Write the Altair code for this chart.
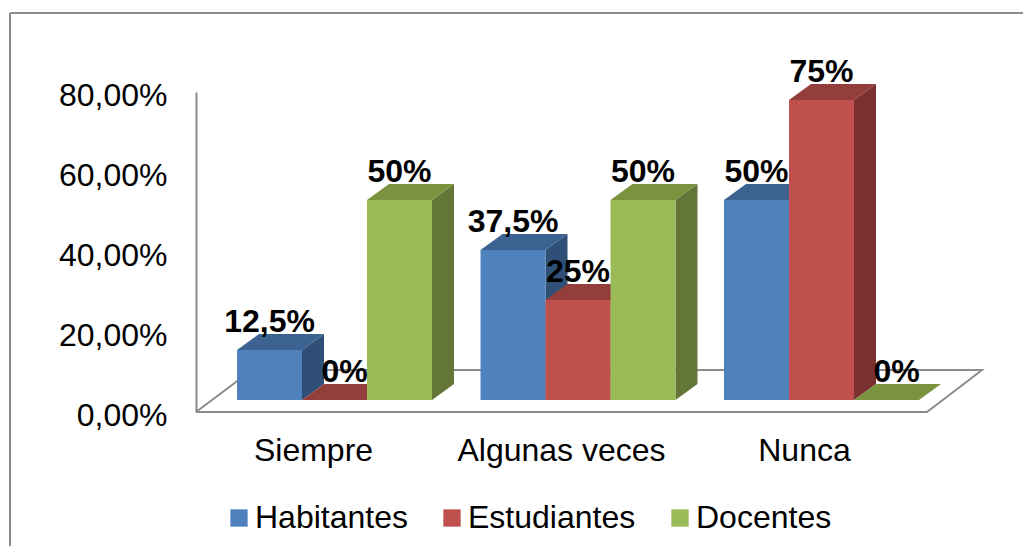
import altair as alt
import pandas as pd

categories = ["Siempre", "Algunas veces", "Nunca"]
series = ["Habitantes", "Estudiantes", "Docentes"]
values = {
    "Habitantes": [12.5, 37.5, 50],
    "Estudiantes": [0, 25, 75],
    "Docentes": [50, 50, 0],
}
labels = {
    "Habitantes": ["12,5%", "37,5%", "50%"],
    "Estudiantes": ["0%", "25%", "75%"],
    "Docentes": ["50%", "50%", "0%"],
}
front_colors = ["#4F81BD", "#C0504D", "#9BBB59"]
side_colors = ["#2F4F77", "#7A3130", "#637637"]
top_colors = ["#3C6291", "#943E3C", "#7A933F"]

FONT = "Liberation Sans"
PLOT_W, PLOT_H = 790, 320
LEFT, TOP = 196 - 8, 92 - 8
RIGHT, BOTTOM = 1015 - LEFT - PLOT_W, 538 - TOP - PLOT_H

group_start = [41, 284.5, 528]
bar_w = 65
base = 3
depth_x, depth_y = 22, 4

front, side, top, text = [], [], [], []
for s_i, s in enumerate(series):
    for c_i, c in enumerate(categories):
        v = values[s][c_i]
        x0 = group_start[c_i] + s_i * bar_w
        x1 = x0 + bar_w
        bid = f"{s}-{c}"
        front.append(dict(series=s, id=bid, x=x0, x2=x1, y=base, y2=base + v))
        side += [
            dict(series=s, id=bid, x=x1, y=base, y2=base + v),
            dict(series=s, id=bid, x=x1 + depth_x, y=base + depth_y, y2=base + v + depth_y),
        ]
        t = base + v
        top += [
            dict(series=s, id=bid, x=x0, y=t, y2=t),
            dict(series=s, id=bid, x=x0 + depth_x, y=t, y2=t + depth_y),
            dict(series=s, id=bid, x=x1, y=t, y2=t + depth_y),
            dict(series=s, id=bid, x=x1 + depth_x, y=t + depth_y, y2=t + depth_y),
        ]
        text.append(dict(x=(x0 + x1) / 2 + (10 if v == 0 else 0), y=t, label=labels[s][c_i]))

front, side, top = map(pd.DataFrame, (front, side, top))
text = pd.DataFrame(text)

xs = alt.Scale(domain=[0, PLOT_W], range=[0, PLOT_W])
ys = alt.Scale(domain=[0, 80], range=[PLOT_H, 0])

x_centers = [117, 365, 608]
label_expr = "+".join(f"(datum.value=={v}?'{c}':'')" for v, c in zip(x_centers, categories))
x_axis = alt.Axis(
    values=x_centers, labelExpr=label_expr, domain=False, ticks=False, grid=False,
    labelFont=FONT, labelFontSize=32, labelColor="#000000", labelPadding=23, labelLimit=400,
    labelBaseline="top", title=None, orient="bottom", labelFlush=False, labelOverlap=False,
)
y_axis = alt.Axis(
    values=[0, 20, 40, 60, 80],
    labelExpr="replace(format(datum.value,'.2f'),'.',',')+'%'",
    domainColor="#8C8C8C", domainWidth=2, ticks=False, grid=False, labelOffset=3,
    labelFont=FONT, labelFontSize=32, labelColor="#000000", labelPadding=29, title=None,
)
X = alt.X("x:Q", scale=xs, axis=x_axis)
Y = alt.Y("y:Q", scale=ys, axis=y_axis)

floor = pd.DataFrame({
    "x": [0, 731, 786, 56, 0],
    "y": [0, 0, 10.5, 10.5, 0],
    "o": [0, 1, 2, 3, 4],
})
floor_layer = alt.Chart(floor).mark_line(color="#8C8C8C", strokeWidth=2, clip=False).encode(
    x=X, y=Y, order="o:Q"
)

layers = [floor_layer]
color_scale = alt.Scale(domain=series, range=front_colors)
for i, s in enumerate(series):
    layers.append(
        alt.Chart(side[side.series == s]).mark_area(color=side_colors[i], clip=False).encode(
            x=X, y=Y, y2="y2:Q", detail="id:N"
        )
    )
    layers.append(
        alt.Chart(top[top.series == s]).mark_area(color=top_colors[i], clip=False).encode(
            x=X, y=Y, y2="y2:Q", detail="id:N"
        )
    )
    layers.append(
        alt.Chart(front[front.series == s]).mark_rect(clip=False).encode(
            x=X, x2="x2:Q", y=Y, y2="y2:Q",
            color=alt.Color("series:N", scale=color_scale, legend=alt.Legend(
                title=None, orient="none", direction="horizontal", columns=3,
                legendX=27, legendY=410, symbolType="square", symbolSize=300,
                symbolStrokeWidth=0, labelFont=FONT, labelFontSize=32, labelColor="#000000",
                labelOffset=0, columnPadding=28, labelLimit=300, symbolOpacity=1,
            )),
        )
    )

layers.append(
    alt.Chart(text).mark_text(
        font=FONT, fontSize=32, fontWeight="bold", color="#000000", dy=-28, baseline="middle",
        align="center", clip=False,
    ).encode(x=X, y=Y, text="label:N")
)

border = alt.Chart(pd.DataFrame({"a": [0]})).mark_rule(color="#8C8C8C", strokeWidth=2, clip=False).encode(
    x=alt.value(10 - 8 - LEFT), x2=alt.value(1031 - 8 - LEFT), y=alt.value(13 - 8 - TOP)
)
border2 = alt.Chart(pd.DataFrame({"a": [0]})).mark_rule(color="#8C8C8C", strokeWidth=2, clip=False).encode(
    x=alt.value(10 - 8 - LEFT), y=alt.value(13 - 8 - TOP), y2=alt.value(554 - 8 - TOP)
)
layers += [border, border2]

chart = alt.layer(*layers).resolve_scale(color="shared").properties(
    width=PLOT_W, height=PLOT_H,
    autosize=alt.AutoSizeParams(type="none"),
    padding={"left": LEFT, "top": TOP, "right": RIGHT, "bottom": BOTTOM},
    background="white",
).configure_view(stroke=None)

chart.save("out.html", embed_options={"renderer": "svg", "actions": False})
